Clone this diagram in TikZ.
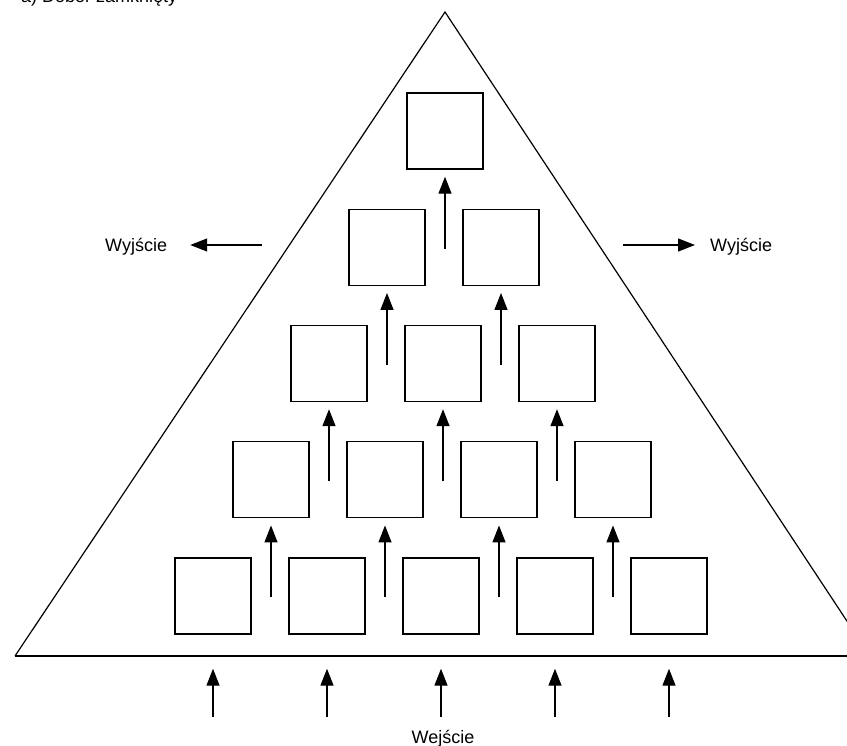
\documentclass[tikz,border=0pt]{standalone}
\usepackage{fontspec}
\setmainfont{Liberation Sans}
\usetikzlibrary{arrows.meta,calc}
\begin{document}
\begin{tikzpicture}[x=1pt,y=-1pt,
  cell/.style={draw,line width=1.4pt,minimum size=76pt,inner sep=0pt},
  flow/.style={line width=1.3pt,-{Triangle[length=17pt,width=13pt]}},
  lbl/.style={font=\fontsize{18}{20}\selectfont,inner sep=0pt}]
\useasboundingbox (0,0) rectangle (847,746);

% pyramid outline, cut at the right edge
\begin{scope}
  \clip (0,0) rectangle (847,746);
  \draw[line width=1.2pt,line join=miter] (15,656) -- (445,12) -- (870,656);
  \draw[line width=1.8pt] (15,656) -- (847,656);
\end{scope}

% title
\node[lbl,anchor=base west] (title) at (21,3) {a) Dobór zamknięty};

% rows of cells, one cell at the top, five at the bottom
\foreach \r in {1,...,5}
  \foreach \c in {1,...,\r}
    \node[cell] (r\r-\c) at ({446-\r+(\c-(\r+1)/2)*114}, {131+(\r-1)*116.25}) {};

% upward flow between rows
\foreach \r [evaluate=\r as \n using int(\r+1)] in {1,...,4}
  \foreach \c in {1,...,\r}
    \draw[flow] ($(r\r-\c.south |- r\n-1.north)+(0,40)$) -- ($(r\r-\c.south)+(0,7)$);

% inputs below the base
\foreach \c in {1,...,5} {
  \coordinate (in\c) at ($(r5-\c.south)+(0,82)$);
  \draw[flow] (in\c) -- ($(r5-\c.south)+(0,34)$);
}
\node[lbl,anchor=base] (inlabel) at (443,743) {Wejście};

% outputs to both sides
\node[lbl,anchor=base west] (outL) at (105,252) {Wyjście};
\node[lbl,anchor=base west] (outR) at (710,252) {Wyjście};
\coordinate (oL) at (262,245);
\coordinate (oR) at (623,245);
\draw[flow,shorten >=23pt] (oL) -- (oL -| outL.east);
\draw[flow,shorten >=15pt] (oR) -- (oR -| outR.west);
\end{tikzpicture}
\end{document}
